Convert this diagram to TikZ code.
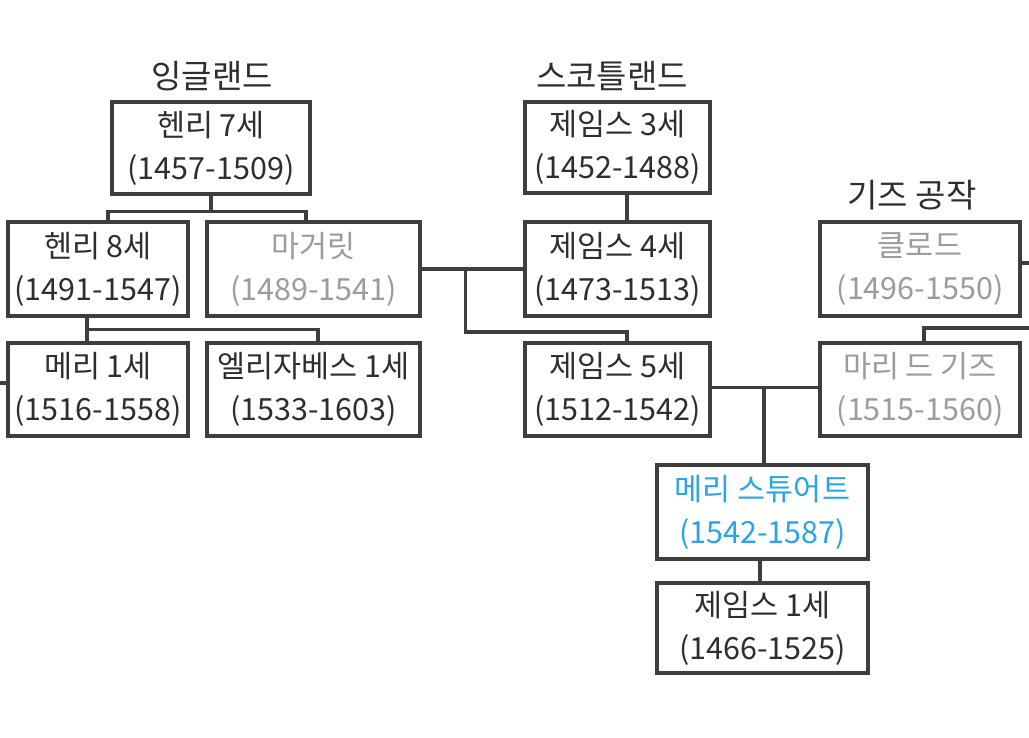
\documentclass[tikz,border=0pt]{standalone}
\usepackage{fontspec}
\setmainfont{Noto Sans CJK KR}
\begin{document}
\begin{tikzpicture}[x=1pt,y=1pt,
  person/.style={draw=boxgray, line width=3.2pt, align=center, inner sep=0pt,
    font=\fontsize{30.5}{43}\selectfont, text=txtdark},
  wide/.style={minimum width=213pt},
  conn/.style={draw=boxgray, line width=3.2pt},
  realm/.style={font=\fontsize{33}{36}\selectfont, text=txtdark},
  faded/.style={text=txtgray},
  hero/.style={text=txtblue}]
\definecolor{boxgray}{HTML}{3E3E3E}
\definecolor{txtdark}{HTML}{2E2E2E}
\definecolor{txtgray}{HTML}{9C9C9C}
\definecolor{txtblue}{HTML}{2AA4E4}
\useasboundingbox[fill=white] (0,0) rectangle (1029,-737);

\node[realm] (eng) at (212,-76) {잉글랜드};
\node[realm] (sco) at (612,-76) {스코틀랜드};
\node[realm] (gui) at (912,-195) {기즈 공작};

\node[person, minimum width=198pt, minimum height=92pt] (h7) at (211,-148) {헨리 7세\\(1457-1509)};
\node[person, minimum width=180pt, minimum height=94pt] (h8) at (98,-269) {헨리 8세\\(1491-1547)};
\node[person, faded, wide, minimum height=94pt] (mg) at (313.5,-269) {마거릿\\(1489-1541)};
\node[person, minimum width=180pt, minimum height=93pt] (m1) at (98,-389.5) {메리 1세\\(1516-1558)};
\node[person, wide, minimum height=93pt] (el) at (313.5,-389.5) {엘리자베스 1세\\(1533-1603)};

\node[person, minimum width=185pt, minimum height=91pt] (j3) at (617.5,-147.5) {제임스 3세\\(1452-1488)};
\node[person, minimum width=185pt, minimum height=94pt] (j4) at (617.5,-269) {제임스 4세\\(1473-1513)};
\node[person, minimum width=185pt, minimum height=93pt] (j5) at (617.5,-389.5) {제임스 5세\\(1512-1542)};

\node[person, faded, minimum width=200pt, minimum height=94pt] (cl) at (920,-269) {클로드\\(1496-1550)};
\node[person, faded, minimum width=200pt, minimum height=93pt] (mdg) at (920,-389.5) {마리 드 기즈\\(1515-1560)};

\node[person, hero, minimum width=211pt, minimum height=94pt] (ms) at (762.5,-512) {메리 스튜어트\\(1542-1587)};
\node[person, minimum width=211pt, minimum height=90pt] (ji1) at (762.5,-628) {제임스 1세\\(1466-1525)};

% Henry VII -> children
\draw[conn] (h7.south) -- ++(0,-16) coordinate (h7j);
\draw[conn] ([xshift=10pt]h8.north) |- (h7j) -| ([xshift=-7.5pt]mg.north);
% Henry VIII -> children
\draw[conn] ([xshift=-11pt]h8.south) -- ([xshift=-11pt]m1.north);
\draw[conn] ([xshift=-11pt]h8.south) ++(0,-12) coordinate (h8j) -| ([xshift=4.5pt]el.north);
% Margaret -- James IV
\draw[conn] (mg.east) -- (j4.west);
\path (mg.east) -- (j4.west) coordinate[pos=0.43] (mj);
\draw[conn] (mj) |- ++(0,-63) -| ([xshift=9.5pt]j5.north);
% James III -> James IV
\draw[conn] ([xshift=9.5pt]j3.south) -- ([xshift=9.5pt]j4.north);
% James V -- Marie de Guise
\draw[conn] ([yshift=2pt]j5.east) -- ([yshift=2pt]mdg.west);
\draw[conn] ([xshift=1.5pt,yshift=2pt]j5.east -| ms.north) -- ([xshift=1.5pt]ms.north);
% Mary Stuart -> James I
\draw[conn] ([xshift=-2.5pt]ms.south) -- ([xshift=-2.5pt]ji1.north);
% lines leaving the picture
\coordinate (redge1) at (1029,-263);
\coordinate (redge2) at (1029,-328);
\coordinate (ledge) at (0,-383);
\draw[conn] ([yshift=6pt]cl.east) -- (redge1);
\draw[conn] ([xshift=4pt]mdg.north) |- (redge2);
\draw[conn] ([yshift=6.5pt]m1.west) -- (ledge);
\end{tikzpicture}
\end{document}
